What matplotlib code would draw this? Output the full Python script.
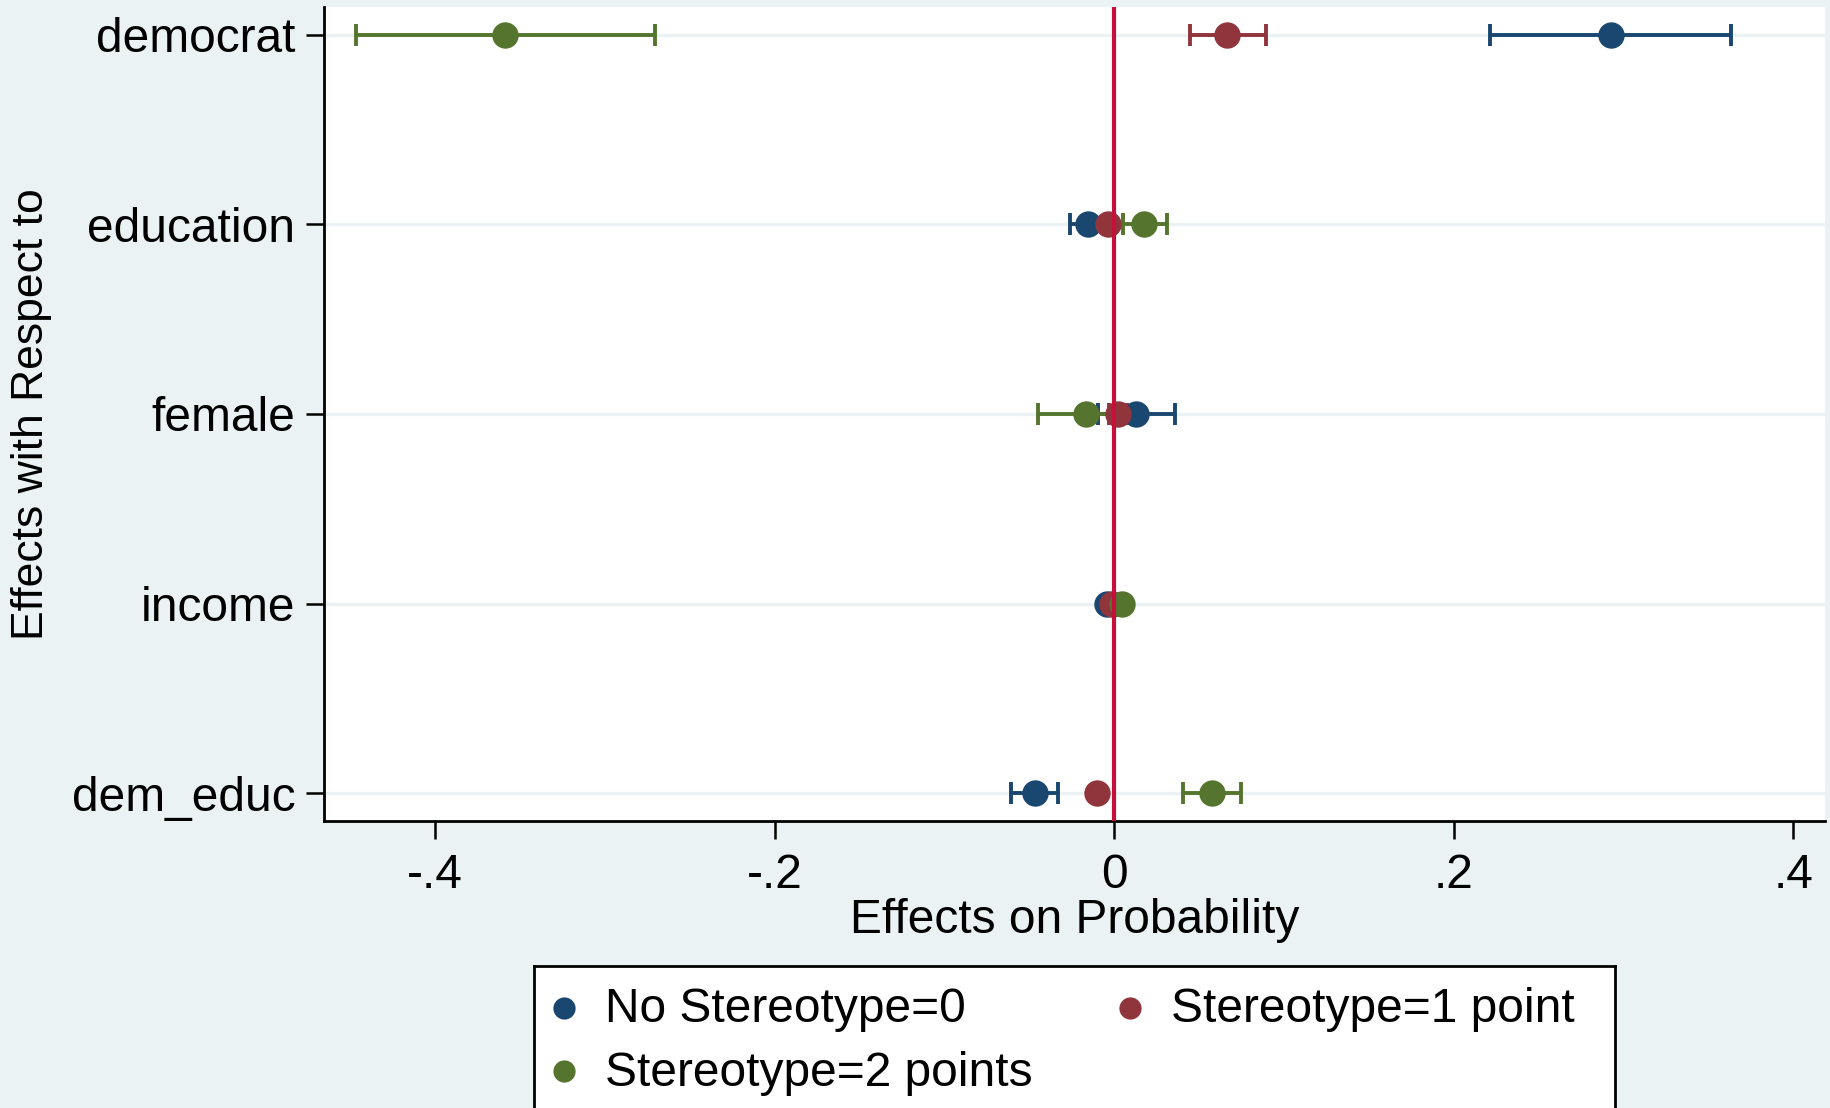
import matplotlib
matplotlib.use("Agg")
import matplotlib.pyplot as plt
import numpy as np

plt.rcParams['font.family'] = ['Liberation Sans', 'DejaVu Sans']

# 变量 (从上到下)
variables = ["democrat", "education", "female", "income", "dem_educ"]
series_names = ["No Stereotype=0", "Stereotype=1 point", "Stereotype=2 points"]
colors = ["#1a476f", "#90353b", "#55752f"]

# 点估计
est_s0 = [0.2924, -0.0157, 0.0131, -0.0045, -0.0465]
est_s1 = [0.0666, -0.0035, 0.0025, -0.0015, -0.0104]
est_s2 = [-0.3588, 0.0177, -0.0167, 0.0047, 0.0574]
# 置信区间下限/上限
lo_s0 = [0.2213, -0.0259, -0.0098, -0.0050, -0.0608]
hi_s0 = [0.3633, -0.0055, 0.0358, -0.0040, -0.0329]
lo_s1 = [0.0446, -0.0060, -0.0030, -0.0020, -0.0125]
hi_s1 = [0.0893, -0.0010, 0.0078, -0.0010, -0.0083]
lo_s2 = [-0.4467, 0.0049, -0.0446, 0.0040, 0.0403]
hi_s2 = [-0.2704, 0.0310, 0.0110, 0.0054, 0.0746]

x_ticks = [-0.4, -0.2, 0, 0.2, 0.4]
x_ticklabels = ["-.4", "-.2", "0", ".2", ".4"]

bg = "#eaf2f3"
fs = 34.5

fig = plt.figure(figsize=(18.31, 11.08), dpi=100, facecolor=bg)
ax = fig.add_axes([324.3/1831, 1-821/1108, (1825-324.3)/1831, (821-7)/1108])
ax.set_facecolor("white")

ypos = np.arange(len(variables))[::-1]  # democrat 在最上

# 网格线
for y in ypos:
    ax.axhline(y, color=bg, lw=2.4, zorder=1)

est = [est_s0, est_s1, est_s2]
lo = [lo_s0, lo_s1, lo_s2]
hi = [hi_s0, hi_s1, hi_s2]

# 先画置信区间
for k in range(3):
    e = np.array(est[k]); l = np.array(lo[k]); h = np.array(hi[k])
    ax.errorbar(e, ypos, xerr=[e - l, h - e], fmt='none', ecolor=colors[k],
                elinewidth=2.8, capsize=8, capthick=2.8, zorder=2)
# 再画点
for k in range(3):
    ax.plot(est[k], ypos, 'o', color=colors[k], markersize=19,
            markeredgewidth=0, zorder=3)

# 零线
ax.axvline(0, color="#c4103a", lw=3, zorder=5)

ax.set_xlim(-0.4652, 0.4186)
ax.set_ylim(-0.147, 4.146)
ax.set_xticks(x_ticks)
ax.set_xticklabels(x_ticklabels)
ax.set_yticks(ypos)
ax.set_yticklabels(variables)
ax.tick_params(axis='both', labelsize=fs, length=13, width=1.8, color='black')
ax.tick_params(axis='x', pad=10)
ax.tick_params(axis='y', pad=8)
for s in ['top', 'right']:
    ax.spines[s].set_visible(False)
for s in ['left', 'bottom']:
    ax.spines[s].set_linewidth(2)

ax.set_xlabel("Effects on Probability", fontsize=fs, labelpad=0)
ax.set_ylabel("Effects with Respect to", fontsize=32, labelpad=14)

# 图例
lax = fig.add_axes([534/1831, 0, (1615-534)/1831, (1108-966)/1108])
lax.set_facecolor("white")
lax.set_xlim(534, 1615)
lax.set_ylim(1108, 966)
lax.set_xticks([]); lax.set_yticks([])
for s in ['top', 'left', 'right']:
    lax.spines[s].set_linewidth(2)
lax.spines['bottom'].set_visible(False)
leg_pos = [(564, 1008), (1130, 1008), (564, 1071)]
for k in range(3):
    mx, my = leg_pos[k]
    lax.plot([mx], [my], 'o', color=colors[k], markersize=16, markeredgewidth=0)
    lax.text(mx + 41, my + 2, series_names[k], fontsize=fs, va='center', ha='left')

fig.savefig("out.png", dpi=100, facecolor=bg)
